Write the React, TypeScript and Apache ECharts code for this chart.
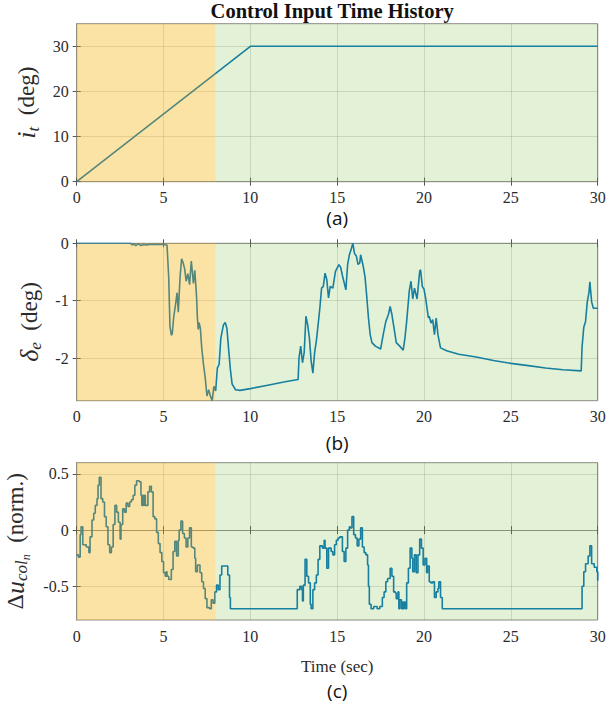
import React, { useEffect, useRef } from "react";
import * as echarts from "echarts";

// ---------- text ----------
const titleText = "Control Input Time History";
const panelLabels = ["(a)", "(b)", "(c)"];
const xAxisTitle = "Time (sec)";
const yNames = [
  "{it|i}{sub|t}{n|  (deg)}",
  "{it|δ}{sub|e}{n|  (deg)}",
  "{up|Δ}{it|u}{sub|col}{subsub|n}{n|  (norm.)}",
];

// ---------- axes ----------
const xMin = 0;
const xMax = 30;
const xTicks = [0, 5, 10, 15, 20, 25, 30];
const itRange = [0, 35];
const itTicks = [0, 10, 20, 30];
const deRange = [-2.74, 0];
const deTicks = [-2, -1, 0];
const ucRange = [-0.8, 0.6];
const ucTicks = [-0.5, 0, 0.5];

// ---------- phases (orange: 0-8 s, green: 8-30 s) ----------
const phaseStart = [0, 8];
const phaseEnd = [8, 30];

// ---------- (a) tilt angle i_t ----------
const itTime = [0, 10, 30];
const itDeg = [0, 30, 30];

// ---------- (b) elevator delta_e ----------
const deTime = [
  0, 3.1, 3.2, 3.3, 3.4, 3.55, 3.7, 3.85, 4.0, 4.2, 4.5, 5.0, 5.2, 5.3, 5.37, 5.45, 5.5, 5.58,
  5.65, 5.72, 5.78, 5.85, 5.9, 5.95, 6.04, 6.13, 6.22, 6.3, 6.4, 6.5, 6.6, 6.66, 6.72, 6.8, 6.9,
  6.95, 7.0, 7.05, 7.12, 7.2, 7.3, 7.4, 7.5, 7.6, 7.7, 7.8, 7.9, 8.0, 8.1, 8.2, 8.3, 8.45, 8.55,
  8.65, 8.75, 8.85, 8.95, 9.15, 9.4, 10, 11, 12, 12.75, 12.8, 12.9, 13.0, 13.1, 13.2, 13.3, 13.4,
  13.5, 13.6, 13.7, 13.8, 13.9, 14.0, 14.1, 14.2, 14.3, 14.4, 14.5, 14.6, 14.75, 14.9, 15.1, 15.2,
  15.3, 15.5, 15.6, 15.7, 15.8, 15.9, 16.0, 16.1, 16.2, 16.3, 16.35, 16.5, 16.6, 16.7, 16.8, 16.9,
  17.0, 17.2, 17.5, 17.65, 17.8, 17.95, 18.05, 18.15, 18.3, 18.4, 18.6, 18.8, 18.9, 19.0, 19.15,
  19.25, 19.35, 19.45, 19.6, 19.75, 19.8, 19.9, 20.0, 20.1, 20.25, 20.3, 20.4, 20.5, 20.6, 20.7,
  20.8, 20.95, 21.3, 22, 23, 24, 25, 26, 27, 28, 29.05, 29.1, 29.2, 29.3, 29.4, 29.5, 29.55,
  29.65, 29.75, 30,
];
const deDeg = [
  0, 0, -0.03, -0.01, -0.04, -0.01, -0.04, -0.02, -0.03, -0.02, -0.02, -0.02, -0.03, -0.6, -1.45,
  -1.6, -1.58, -1.3, -1.15, -1.0, -0.86, -1.2, -0.9, -0.6, -0.27, -0.34, -0.45, -0.66, -0.53,
  -0.72, -0.31, -0.5, -0.7, -0.47, -0.92, -1.3, -1.5, -1.38, -1.48, -1.82, -2.11, -2.34, -2.66,
  -2.55, -2.66, -2.74, -2.49, -2.57, -2.17, -2.11, -1.65, -1.42, -1.38, -1.48, -1.85, -2.2, -2.45,
  -2.55, -2.56, -2.53, -2.47, -2.41, -2.37, -2.0, -1.79, -2.08, -1.9, -1.27, -1.42, -1.65, -2.05,
  -2.26, -1.9, -1.7, -1.42, -1.13, -0.78, -0.75, -0.52, -0.63, -0.95, -0.75, -0.78, -0.49, -0.37,
  -0.42, -0.56, -0.81, -0.37, -0.2, -0.11, 0, -0.18, -0.22, -0.37, -0.34, -0.2, -0.4, -0.58,
  -0.92, -1.3, -1.59, -1.73, -1.79, -1.84, -1.59, -1.36, -1.24, -1.1, -1.24, -1.53, -1.73, -1.79,
  -1.86, -1.65, -1.36, -0.83, -0.66, -0.97, -0.78, -0.97, -0.49, -0.46, -0.75, -0.8, -0.97, -1.3,
  -1.27, -1.39, -1.33, -1.59, -1.3, -1.59, -1.82, -1.87, -1.93, -1.98, -2.04, -2.09, -2.13, -2.17,
  -2.2, -2.22, -1.8, -1.46, -1.36, -1.02, -0.85, -0.67, -1.02, -1.13, -1.13,
];

// ---------- (c) normalized collective delta_u_col_n (sample & hold) ----------
const ucTime = [
  0, 0.1, 0.2, 0.25, 0.35, 0.55, 0.7, 0.77, 0.88, 0.98, 1.07, 1.17, 1.23, 1.3, 1.4, 1.5, 1.6, 1.7,
  1.8, 1.9, 2.0, 2.1, 2.2, 2.3, 2.4, 2.5, 2.55, 2.65, 2.75, 2.85, 2.95, 3.05, 3.15, 3.25, 3.35,
  3.45, 3.6, 3.7, 3.75, 3.8, 3.85, 3.9, 3.95, 4.1, 4.2, 4.3, 4.4, 4.5, 4.6, 4.7, 4.8, 4.9, 5.0,
  5.1, 5.15, 5.2, 5.3, 5.45, 5.55, 5.65, 5.75, 5.85, 5.9, 6.0, 6.1, 6.2, 6.3, 6.4, 6.5, 6.6, 6.7,
  6.8, 6.85, 6.95, 7.1, 7.2, 7.3, 7.4, 7.5, 7.65, 7.75, 7.85, 7.95, 8.05, 8.15, 8.25, 8.35, 8.7,
  8.8, 8.85, 12.7, 12.85, 12.95, 13.0, 13.05, 13.15, 13.25, 13.35, 13.45, 13.5, 13.6, 13.7, 13.8,
  13.9, 14.0, 14.15, 14.25, 14.3, 14.4, 14.5, 14.65, 14.75, 14.85, 14.95, 15.05, 15.15, 15.3,
  15.4, 15.5, 15.6, 15.7, 15.75, 15.85, 15.95, 16.05, 16.15, 16.25, 16.35, 16.45, 16.55, 16.65,
  16.75, 16.8, 16.85, 16.95, 17.1, 17.3, 17.45, 17.6, 17.7, 17.8, 17.9, 18.05, 18.15, 18.25,
  18.35, 18.4, 18.5, 18.55, 18.6, 18.7, 18.75, 18.8, 18.85, 18.93, 19.0, 19.1, 19.2, 19.3, 19.35,
  19.45, 19.55, 19.65, 19.75, 19.85, 19.95, 20.05, 20.15, 20.2, 20.3, 20.4, 20.5, 20.6, 20.7,
  20.8, 20.85, 20.95, 21.05, 29.05, 29.1, 29.2, 29.3, 29.45, 29.55, 29.65, 29.8, 29.95, 30,
];
const ucNorm = [
  -0.22, -0.24, -0.04, 0.03, -0.13, -0.15, -0.2, -0.06, 0.09, 0.15, 0.22, 0.28, 0.4, 0.47, 0.28,
  0.25, 0.12, 0.03, -0.13, -0.2, -0.15, 0.05, 0.22, 0.16, 0.07, -0.08, 0.05, 0.19, 0.16, 0.24,
  0.21, 0.25, 0.27, 0.31, 0.4, 0.44, 0.43, 0.31, 0.22, 0.31, 0.22, 0.31, 0.22, 0.34, 0.39, 0.34,
  0.12, 0.1, -0.02, -0.12, -0.2, -0.28, -0.38, -0.41, -0.37, -0.41, -0.44, -0.35, -0.19, -0.1,
  -0.23, -0.09, 0.0, 0.08, -0.03, -0.07, -0.15, -0.07, 0.02, -0.15, -0.16, -0.25, -0.37, -0.31,
  -0.38, -0.46, -0.52, -0.61, -0.69, -0.7, -0.62, -0.65, -0.55, -0.49, -0.53, -0.4, -0.32, -0.4,
  -0.6, -0.7, -0.53, -0.5, -0.53, -0.63, -0.49, -0.26, -0.41, -0.47, -0.66, -0.7, -0.53, -0.47,
  -0.4, -0.26, -0.14, -0.16, -0.09, -0.16, -0.34, -0.16, -0.19, -0.22, -0.13, -0.09, -0.07, -0.06,
  -0.19, -0.28, -0.16, 0.0, 0.03, 0.02, 0.12, -0.04, -0.07, -0.14, -0.08, 0.02, -0.15, -0.2,
  -0.22, -0.31, -0.5, -0.66, -0.7, -0.68, -0.7, -0.68, -0.6, -0.55, -0.46, -0.43, -0.34, -0.41,
  -0.55, -0.56, -0.61, -0.55, -0.7, -0.62, -0.7, -0.64, -0.7, -0.64, -0.7, -0.47, -0.34, -0.16,
  -0.25, -0.37, -0.22, -0.38, -0.22, -0.08, -0.16, -0.31, -0.25, -0.38, -0.32, -0.46, -0.47,
  -0.46, -0.6, -0.55, -0.52, -0.46, -0.6, -0.7, -0.7, -0.5, -0.37, -0.3, -0.23, -0.14, -0.3,
  -0.33, -0.37, -0.45,
];

const zip = (a: number[], b: number[]) => a.map((t, i) => [t, b[i]]);

const SERIF = "Liberation Serif";
const SANS = "Open Sans";
const AXIS_GRAY = "#8a8a8a";
const TEXT = "#2b2b2b";
const LINE = "#0072BD";
const PHASE_FILL = ["rgba(244,175,1,0.35)", "rgba(115,185,50,0.2)"];

const GRID_LEFT = 76.7;
const GRID_RIGHT = 12.3;
const GRID_TOPS = [23.7, 243.3, 462.7];
const GRID_HEIGHTS = [158, 157.4, 157.3];
const LABEL_Y = [218, 443, 691];

const nameRich = {
  it: { fontFamily: SERIF, fontStyle: "italic", fontSize: 26, lineHeight: 28, color: TEXT },
  up: { fontFamily: SERIF, fontSize: 24, lineHeight: 28, color: TEXT },
  sub: { fontFamily: SERIF, fontStyle: "italic", fontSize: 17, lineHeight: 18, padding: [13, 0, 0, 0], color: TEXT },
  subsub: { fontFamily: SERIF, fontStyle: "italic", fontSize: 12, lineHeight: 13, padding: [22, 0, 0, 0], color: TEXT },
  n: { fontFamily: SERIF, fontSize: 23, lineHeight: 28, color: TEXT },
};

export default function App() {
  const ref = useRef<HTMLDivElement>(null);

  useEffect(() => {
    if (!ref.current) return;
    const chart = echarts.init(ref.current, undefined, { renderer: "svg" });

    const panels = [
      { data: zip(itTime, itDeg), range: itRange, ticks: itTicks, step: false },
      { data: zip(deTime, deDeg), range: deRange, ticks: deTicks, step: false },
      { data: zip(ucTime, ucNorm), range: ucRange, ticks: ucTicks, step: true },
    ];
    const phases = phaseStart.map((s, i) => [s, phaseEnd[i], i]);

    const grid = panels.map((_, i) => ({
      left: GRID_LEFT,
      right: GRID_RIGHT,
      top: GRID_TOPS[i],
      height: GRID_HEIGHTS[i],
      show: true,
      borderColor: AXIS_GRAY,
      borderWidth: 1,
      backgroundColor: "transparent",
      containLabel: false,
      outerBoundsMode: "none",
    }));

    const xAxis: any[] = [];
    const yAxis: any[] = [];
    panels.forEach((p, i) => {
      xAxis.push({
        type: "value",
        gridIndex: i,
        min: xMin,
        max: xMax,
        interval: 5,
        axisLine: { show: true, lineStyle: { color: AXIS_GRAY, width: 1 } },
        axisTick: { show: true, inside: true, length: 4, lineStyle: { color: "#555" } },
        axisLabel: {
          fontFamily: SERIF, fontSize: 16, color: TEXT, margin: 8,
          customValues: xTicks,
        },
        splitLine: { show: true, lineStyle: { color: "rgba(0,0,0,0.13)", width: 1 } },
        name: i === 2 ? xAxisTitle : "",
        nameLocation: "middle",
        nameGap: 38,
        nameTextStyle: { fontFamily: SERIF, fontSize: 17, color: TEXT },
      });
      yAxis.push({
        type: "value",
        gridIndex: i,
        min: p.range[0],
        max: p.range[1],
        axisLine: { show: true, lineStyle: { color: AXIS_GRAY, width: 1 } },
        axisTick: { show: true, inside: true, length: 4, lineStyle: { color: "#555" }, customValues: p.ticks },
        axisLabel: { fontFamily: SERIF, fontSize: 16, color: TEXT, margin: 8, customValues: p.ticks },
        splitLine: { show: true, lineStyle: { color: "rgba(0,0,0,0.13)", width: 1 } },
        name: yNames[i],
        nameLocation: "middle",
        nameRotate: 90,
        nameGap: 31,
        nameTextStyle: { fontFamily: SERIF, fontSize: 23, color: TEXT, rich: nameRich },
      });
    });
    // mirrored (box) axes: top and right
    panels.forEach((p, i) => {
      xAxis.push({
        type: "value",
        gridIndex: i,
        position: "top",
        min: xMin,
        max: xMax,
        interval: 5,
        axisLine: { show: false },
        axisTick: { show: true, inside: true, length: 4, lineStyle: { color: "#555" } },
        axisLabel: { show: false },
        splitLine: { show: false },
      });
      yAxis.push({
        type: "value",
        gridIndex: i,
        position: "right",
        min: p.range[0],
        max: p.range[1],
        axisLine: { show: false },
        axisTick: { show: true, inside: true, length: 4, lineStyle: { color: "#555" }, customValues: p.ticks },
        axisLabel: { show: false, customValues: p.ticks },
        splitLine: { show: false },
      });
    });

    const series: any[] = [];
    panels.forEach((p, i) => {
      series.push({
        type: "line",
        xAxisIndex: i,
        yAxisIndex: i,
        data: p.data,
        step: p.step ? "end" : false,
        showSymbol: false,
        symbol: "none",
        lineStyle: { color: LINE, width: 1.6 },
        z: 2,
        silent: true,
      });
      series.push({
        type: "custom",
        xAxisIndex: i,
        yAxisIndex: i,
        data: phases,
        encode: { x: [0, 1] },
        clip: false,
        silent: true,
        z: 5,
        renderItem: (params: any, api: any) => {
          const cs = params.coordSys;
          const x0 = api.coord([api.value(0), p.range[0]])[0];
          const x1 = api.coord([api.value(1), p.range[0]])[0];
          return {
            type: "rect",
            shape: { x: x0, y: cs.y, width: x1 - x0, height: cs.height },
            style: { fill: PHASE_FILL[api.value(2)] },
          };
        },
      });
    });

    const plotCenter = GRID_LEFT + (610 - GRID_LEFT - GRID_RIGHT) / 2;
    const graphic: any[] = [
      {
        type: "text",
        x: plotCenter - 5,
        y: 11,
        style: {
          text: titleText,
          fontFamily: SERIF,
          fontWeight: "bold",
          fontSize: 20.5,
          fill: "#111",
          align: "center",
          verticalAlign: "middle",
        },
      },
      ...panelLabels.map((t, i) => ({
        type: "text",
        x: plotCenter,
        y: LABEL_Y[i],
        style: {
          text: t,
          fontFamily: SANS,
          fontSize: 19,
          fill: "#111",
          align: "center",
          verticalAlign: "middle",
        },
      })),
    ];

    chart.setOption({
      animation: false,
      backgroundColor: "#ffffff",
      grid,
      xAxis,
      yAxis,
      series,
      graphic,
    });
    return () => chart.dispose();
  }, []);

  return (
    <div
      ref={ref}
      style={{ position: "fixed", left: 0, top: 0, width: 610, height: 708 }}
    />
  );
}
